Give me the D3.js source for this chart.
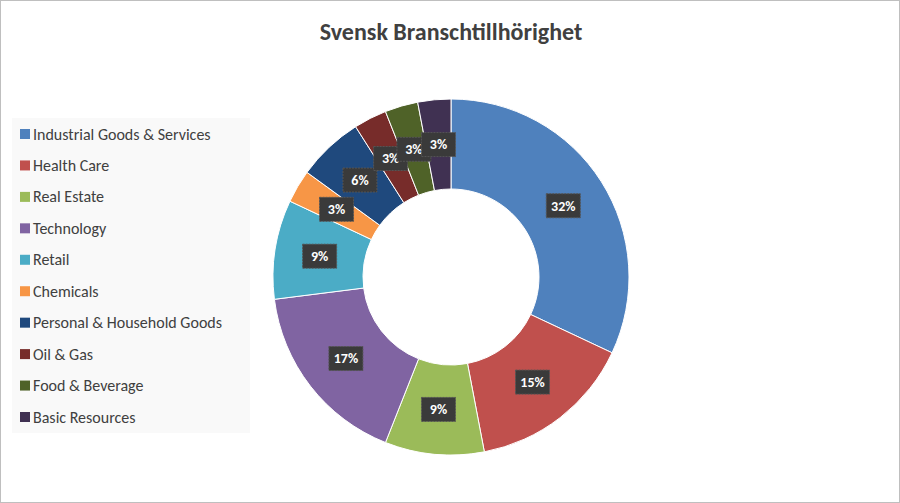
<!DOCTYPE html>
<html><head><meta charset="utf-8">
<script src="https://cdn.jsdelivr.net/npm/d3@7"></script>
<style>body{margin:0;background:#fff}svg{font-family:Calibri,"Open Sans",Lato,sans-serif}</style>
</head><body><div id="chart"></div>
<script>
// data
var categories = ["Industrial Goods & Services","Health Care","Real Estate","Technology","Retail","Chemicals","Personal & Household Goods","Oil & Gas","Food & Beverage","Basic Resources"];
var values = [32, 15, 9, 17, 9, 3, 6, 3, 3, 3];
var colors = ["#4f81bd","#c0504d","#9bbb59","#8064a2","#4bacc6","#f79646","#1f497d","#772c2a","#4f6228","#403152"];

var W = 900, H = 503;
var svg = d3.select("#chart").append("svg").attr("width", W).attr("height", H);
svg.append("rect").attr("x",0.5).attr("y",0.5).attr("width",W-1).attr("height",H-1)
  .attr("fill","#fff").attr("stroke","#bfbfbf");

svg.append("text").attr("x",451).attr("y",40).attr("text-anchor","middle")
  .attr("font-size",24).attr("font-weight","bold").attr("fill","#404040")
  .text("Svensk Branschtillhörighet");

var cx = 451, cy = 277, rOut = 178, rIn = 88;
var pie = d3.pie().sort(null).value(function(d){return d;});
var arc = d3.arc().innerRadius(rIn).outerRadius(rOut);
var labelArc = d3.arc().innerRadius((rIn+rOut)/2).outerRadius((rIn+rOut)/2);
var arcs = pie(values);

var g = svg.append("g").attr("transform","translate("+cx+","+cy+")");
g.selectAll("path.slice").data(arcs).enter().append("path")
  .attr("d", arc).attr("fill", function(d,i){return colors[i];})
  .attr("stroke","#fff").attr("stroke-width",1);

var lab = g.selectAll("g.lab").data(arcs).enter().append("g")
  .attr("transform", function(d){var c = labelArc.centroid(d); return "translate("+c[0]+","+c[1]+")";});
lab.append("rect").attr("x",-17).attr("y",-12).attr("width",34).attr("height",24)
  .attr("fill","#3a3a3a").attr("stroke","#555").attr("stroke-dasharray","2,1");
lab.append("text").attr("text-anchor","middle").attr("dy","0.35em")
  .attr("font-size",14).attr("font-weight","bold").attr("fill","#fff")
  .text(function(d){return d.data + "%";});

// legend
var leg = svg.append("g");
leg.append("rect").attr("x",12).attr("y",118).attr("width",238).attr("height",315).attr("fill","#f9f9f9");
var y = d3.scalePoint().domain(categories).range([134, 417]);
var items = leg.selectAll("g.item").data(categories).enter().append("g")
  .attr("transform", function(d){return "translate(20,"+y(d)+")";});
items.append("rect").attr("x",0).attr("y",-5).attr("width",10).attr("height",10)
  .attr("fill", function(d,i){return colors[i];});
items.append("text").attr("x",13).attr("dy","0.35em").attr("font-size",16)
  .attr("fill","#404040").text(function(d){return d;});
</script></body></html>
